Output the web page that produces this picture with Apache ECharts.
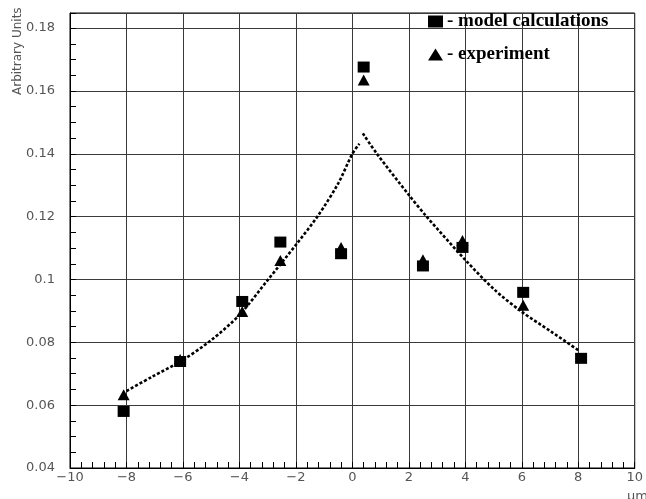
<!DOCTYPE html>
<html>
<head>
<meta charset="utf-8">
<script src="https://cdn.jsdelivr.net/npm/echarts@6/dist/echarts.min.js"></script>
<style>
  html, body { margin: 0; padding: 0; background: #fff; }
  #chart { width: 646px; height: 499px; }
</style>
</head>
<body>
<div id="chart"></div>
<script>
// model calculations (squares)
const modelX = [-8.1, -6.1, -3.9, -2.55, -0.4, 0.4, 2.5, 3.9, 6.05, 8.1]
const modelY = [0.058, 0.0739, 0.093, 0.1119, 0.1082, 0.1676, 0.1043, 0.1102, 0.0959, 0.0749]

// experiment (triangles)
const expX = [-8.1, -6.1, -3.9, -2.55, -0.4, 0.4, 2.5, 3.9, 6.05]
const expY = [0.0633, 0.0745, 0.0898, 0.1060, 0.1102, 0.1635, 0.1063, 0.1124, 0.0918]

// dotted curve, two branches
const leftCurveX = [-8.0, -7.1, -6.0, -5.0, -4.0, -3.0, -2.0, -1.2, -0.5, 0.0, 0.25]
const leftCurveY = [0.0645, 0.0690, 0.0744, 0.0807, 0.0887, 0.0998, 0.1110, 0.1205, 0.1306, 0.1400, 0.1432]
const rightCurveX = [0.37, 0.86, 2.0, 2.63, 4.0, 5.05, 6.0, 7.04, 8.0]
const rightCurveY = [0.1465, 0.1401, 0.1269, 0.1200, 0.1062, 0.0966, 0.0897, 0.0834, 0.0775]

const xTicks = { min: -10, max: 10, step: 2 }
const yTicks = { min: 0.04, max: 0.1848, step: 0.02 }

const LABEL_FONT = '"DejaVu Sans", sans-serif'
const LEGEND_FONT = '"Liberation Serif", "DejaVu Serif", serif'

const zip = (xs, ys) => xs.map((x, i) => [x, ys[i]])

function buildOption() {
  const gridLine = { show: true, lineStyle: { color: '#3a3a3a', width: 1 } }
  const axisLine = { show: true, onZero: false, lineStyle: { color: '#000', width: 1 } }
  const curveStyle = { color: '#000', width: 2.6, type: [3, 2] }

  return {
    backgroundColor: '#fff',
    animation: false,
    grid: {
      left: 70, right: 6, top: 13, bottom: 31,
      show: true, borderColor: '#000', borderWidth: 1,
    },
    legend: {
      data: ['model calculations', 'experiment'],
      orient: 'vertical',
      left: 428, top: 12,
      itemWidth: 15, itemHeight: 12,
      itemGap: 14,
      formatter: name => '- ' + name,
      textStyle: {
        color: '#000', fontFamily: LEGEND_FONT, fontWeight: 'bold',
        fontSize: 19, lineHeight: 18, padding: [0, 0, 0, -1],
      },
      padding: 0,
      selectedMode: false,
    },
    xAxis: {
      type: 'value',
      min: xTicks.min, max: xTicks.max, interval: xTicks.step,
      axisLine,
      axisTick: { show: true, inside: true, length: 6, lineStyle: { color: '#000' } },
      minorTick: { show: true, splitNumber: 5, length: 6, lineStyle: { color: '#000', width: 1 } },
      splitLine: gridLine,
      axisLabel: {
        color: '#555', fontFamily: LABEL_FONT, fontSize: 13, margin: 3,
        formatter: v => String(Math.round(v)).replace('-', '\u2212'),
      },
    },
    yAxis: {
      type: 'value',
      min: yTicks.min, max: yTicks.max, interval: yTicks.step,
      axisLine,
      axisTick: { show: true, inside: true, length: 6, lineStyle: { color: '#000' } },
      minorTick: { show: true, splitNumber: 4, length: 6, lineStyle: { color: '#000', width: 1 } },
      splitLine: gridLine,
      axisLabel: {
        color: '#555', fontFamily: LABEL_FONT, fontSize: 13, margin: 15,
        showMaxLabel: false,
        formatter: v => String(+v.toFixed(3)),
      },
    },
    graphic: [
      {
        type: 'text', x: 12, y: 95, rotation: Math.PI / 2,
        style: {
          text: 'Arbitrary Units', fill: '#555',
          font: '12px "DejaVu Sans", sans-serif', textVerticalAlign: 'top',
        },
      },
      {
        type: 'text', x: 627, y: 490,
        style: { text: 'μm', fill: '#555', font: '13px "DejaVu Sans", sans-serif' },
      },
    ],
    series: [
      {
        name: 'curve-left', type: 'line', data: zip(leftCurveX, leftCurveY),
        smooth: 0.3, showSymbol: false, lineStyle: curveStyle, z: 2,
      },
      {
        name: 'curve-right', type: 'line', data: zip(rightCurveX, rightCurveY),
        smooth: 0.3, showSymbol: false, lineStyle: curveStyle, z: 2,
      },
      {
        name: 'experiment', type: 'scatter', data: zip(expX, expY),
        symbol: 'triangle', symbolSize: [12, 11],
        itemStyle: { color: '#000', opacity: 1 }, z: 3,
      },
      {
        name: 'model calculations', type: 'scatter', data: zip(modelX, modelY),
        symbol: 'rect', symbolSize: [12, 11],
        itemStyle: { color: '#000', opacity: 1 }, z: 4,
      },
    ],
  }
}

const chart = echarts.init(document.getElementById('chart'))
chart.setOption(buildOption())
</script>
</body>
</html>
